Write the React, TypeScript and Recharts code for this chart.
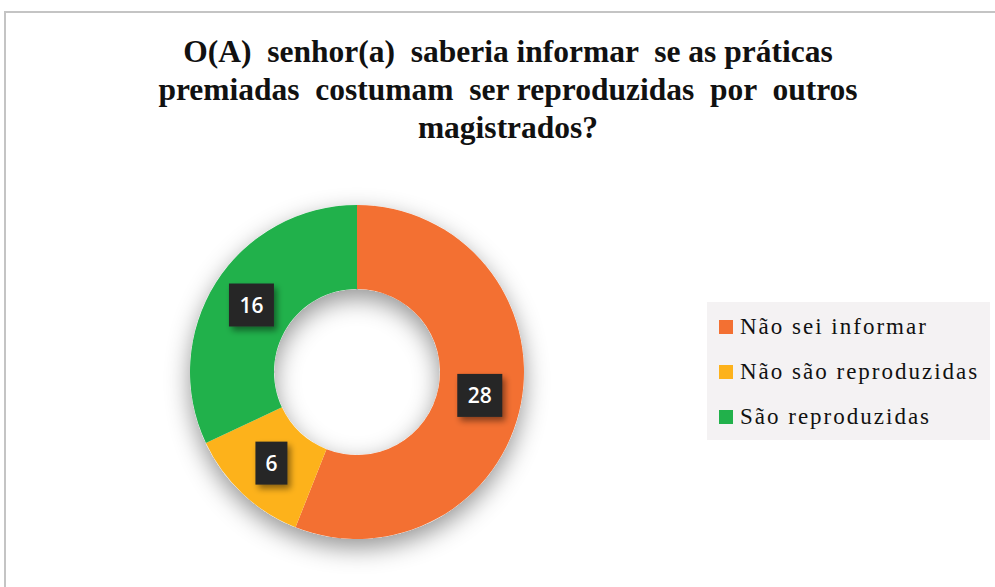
import { PieChart, Pie, Cell, Legend } from 'recharts';

const TITLE_LINES = [
    'O(A)  senhor(a)  saberia informar  se as práticas',
    'premiadas  costumam  ser reproduzidas  por  outros',
    'magistrados?',
];

const CATEGORIES = ['Não sei informar', 'Não são reproduzidas', 'São reproduzidas'];
const VALUES = [28, 6, 16];
const COLORS = ['#F37032', '#FDB21B', '#21B14B'];

const data = CATEGORIES.map((name, i) => ({ name, value: VALUES[i] }));
const shadowData = [{ name: 'shadow', value: 1 }];

const RADIAN = Math.PI / 180;

function ValueLabel(props: any) {
    const { cx, cy, midAngle, innerRadius, outerRadius, value } = props;
    const r = (innerRadius + outerRadius) / 2;
    const x = cx + r * Math.cos(-midAngle * RADIAN);
    const y = cy + r * Math.sin(-midAngle * RADIAN);
    const w = String(value).length > 1 ? 45 : 32;
    const h = 43;
    return (
        <g>
            <rect
                x={x - w / 2}
                y={y - h / 2}
                width={w}
                height={h}
                fill="#262628"
                filter="url(#labelShadow)"
            />
            <text
                x={x}
                y={y}
                textAnchor="middle"
                dominantBaseline="central"
                fill="#ffffff"
                fontFamily="'Open Sans', sans-serif"
                fontWeight={600}
                fontSize={21}
            >
                {value}
            </text>
        </g>
    );
}

function LegendBox() {
    return (
        <div
            style={{
                width: 283,
                height: 138,
                background: '#F4F2F3',
                boxSizing: 'border-box',
                paddingTop: 2,
                paddingLeft: 12,
            }}
        >
            {data.map((d, i) => (
                <div
                    key={d.name}
                    style={{
                        display: 'flex',
                        alignItems: 'center',
                        height: 45,
                        fontFamily: "'Liberation Serif', serif",
                        fontSize: 23,
                        letterSpacing: 2,
                        color: '#111',
                        whiteSpace: 'nowrap',
                    }}
                >
                    <span
                        style={{
                            display: 'inline-block',
                            width: 14,
                            height: 14,
                            background: COLORS[i],
                            marginRight: 7,
                        }}
                    />
                    {d.name}
                </div>
            ))}
        </div>
    );
}

export default function App() {
    return (
        <div
            style={{
                position: 'absolute',
                left: 0,
                top: 0,
                width: 995,
                height: 587,
                background: '#ffffff',
                overflow: 'hidden',
            }}
        >
            <div
                style={{
                    position: 'absolute',
                    left: 4,
                    top: 11,
                    width: 1200,
                    height: 800,
                    borderTop: '2px solid #c4c4c4',
                    borderLeft: '2px solid #c4c4c4',
                }}
            />
            <div
                style={{
                    position: 'absolute',
                    left: 0,
                    top: 33,
                    width: 1016,
                    textAlign: 'center',
                    fontFamily: "'Liberation Serif', serif",
                    fontWeight: 700,
                    fontSize: 31.5,
                    lineHeight: '38px',
                    whiteSpace: 'pre',
                    color: '#111',
                }}
            >
                {TITLE_LINES.join('\n')}
            </div>
            <div style={{ position: 'absolute', left: 0, top: 0 }}>
                <PieChart width={995} height={587} margin={{ top: 0, right: 0, bottom: 0, left: 0 }}>
                    <defs>
                        <filter id="donutShadow" x="-30%" y="-30%" width="160%" height="160%">
                            <feDropShadow dx="0" dy="9" stdDeviation="12" floodColor="#000" floodOpacity="0.42" />
                        </filter>
                        <filter id="labelShadow" x="-30%" y="-30%" width="170%" height="170%">
                            <feDropShadow dx="3" dy="4" stdDeviation="3" floodColor="#000" floodOpacity="0.45" />
                        </filter>
                    </defs>
                    <Pie
                        data={shadowData}
                        dataKey="value"
                        cx={357}
                        cy={372}
                        innerRadius={83}
                        outerRadius={167}
                        startAngle={90}
                        endAngle={-270}
                        stroke="none"
                        isAnimationActive={false}
                        legendType="none"
                    >
                        <Cell fill="#ffffff" filter="url(#donutShadow)" />
                    </Pie>
                    <Pie
                        data={data}
                        dataKey="value"
                        nameKey="name"
                        cx={357}
                        cy={372}
                        innerRadius={83}
                        outerRadius={167}
                        startAngle={90}
                        endAngle={-270}
                        stroke="none"
                        label={ValueLabel}
                        labelLine={false}
                        isAnimationActive={false}
                    >
                        {data.map((d, i) => (
                            <Cell key={d.name} fill={COLORS[i]} />
                        ))}
                    </Pie>
                    <Legend
                        content={() => <LegendBox />}
                        wrapperStyle={{ position: 'absolute', left: 707, top: 302, width: 283, height: 138 }}
                    />
                </PieChart>
            </div>
        </div>
    );
}
